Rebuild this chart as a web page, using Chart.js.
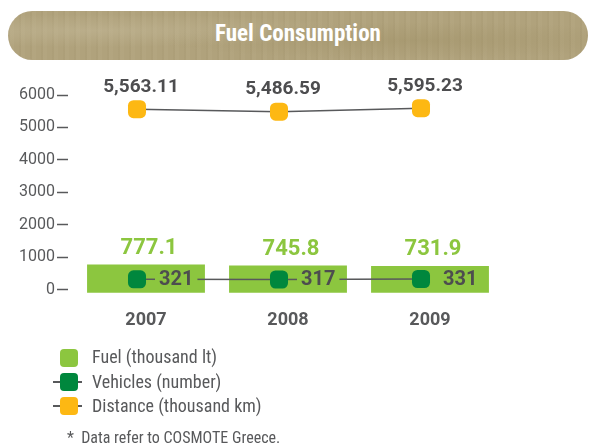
<!DOCTYPE html>
<html>
<head>
<meta charset="utf-8">
<script src="https://cdn.jsdelivr.net/npm/chart.js@4.4.0/dist/chart.umd.min.js"></script>
<style>
  body { margin: 0; background: #fff; }
  #page { position: relative; width: 593px; height: 447px; overflow: hidden;
          font-family: "Roboto Condensed", Roboto, sans-serif; color: #58595b; }
  #banner { position: absolute; left: 8px; top: 11px; width: 580px; height: 49px; border-radius: 25px;
            background-color: #b0a27c;
            background-image:
              radial-gradient(ellipse at 15% 40%, rgba(205,195,165,0.35), rgba(0,0,0,0) 40%),
              radial-gradient(ellipse at 70% 60%, rgba(150,135,90,0.30), rgba(0,0,0,0) 45%),
              repeating-linear-gradient(90deg, rgba(120,105,65,0.06) 0 2px, rgba(230,220,190,0.05) 2px 6px, rgba(0,0,0,0) 6px 11px); }
  #banner span { position: absolute; left: 0; right: 0; top: 0; line-height: 45px; text-align: center;
                 color: #fff; font-weight: bold; font-size: 23px; }
  #chart { position: absolute; left: 0; top: 0; }
  .row { position: absolute; left: 92px; font-size: 18px; line-height: 20px; }
  .icon { position: absolute; width: 18px; height: 18px; border-radius: 4px; }
  .dash { position: absolute; left: 53px; width: 29px; height: 2px; background: #58595b; }
  #note { position: absolute; left: 67px; top: 428px; font-size: 16px; line-height: 20px; white-space: pre; }
</style>
</head>
<body>
<div id="page">
  <div id="banner"><span>Fuel Consumption</span></div>
  <canvas id="chart" width="593" height="447"></canvas>

  <div class="icon" style="left:60px; top:349px; background:#8cc63f;"></div>
  <div class="row" style="top:347px;">Fuel (thousand lt)</div>

  <div class="dash" style="top:381px;"></div>
  <div class="icon" style="left:60px; top:373px; background:#00873d;"></div>
  <div class="row" style="top:372px;">Vehicles (number)</div>

  <div class="dash" style="top:405px;"></div>
  <div class="icon" style="left:60px; top:397px; background:#fdb813;"></div>
  <div class="row" style="top:396px;">Distance (thousand km)</div>

  <div id="note">*  Data refer to COSMOTE Greece.</div>
</div>

<script>
const years = ['2007', '2008', '2009'];
const fuel = [777.1, 745.8, 731.9];
const vehicles = [321, 317, 331];
const distance = [5563.11, 5486.59, 5595.23];
const yTicks = [0, 1000, 2000, 3000, 4000, 5000, 6000];

const family = '"Roboto Condensed", Roboto, sans-serif';
const boldFamily = 'Roboto, sans-serif';
const fuelColor = '#8cc63f';
const vehicleColor = '#00873d';
const distanceColor = '#fdb813';
const lineColor = '#58595b';
const darkText = '#4d4d4f';
const lineShift = -9;   // the line markers sit a little left of the bar centres

// nudge the two line datasets left of the bar centres
const shiftLines = {
    id: 'shiftLines',
    beforeDatasetDraw(chart, args) {
        if (args.meta.type === 'line') {
            chart.ctx.save();
            chart.ctx.translate(lineShift, 0);
        }
    },
    afterDatasetDraw(chart, args) {
        if (args.meta.type === 'line') chart.ctx.restore();
    }
};

// labels drawn next to the marks
const valueLabels = {
    id: 'valueLabels',
    afterDatasetsDraw(chart) {
        const ctx = chart.ctx;
        ctx.save();
        ctx.textBaseline = 'middle';

        chart.getDatasetMeta(0).data.forEach((bar, i) => {
            ctx.font = 'bold 22px ' + boldFamily;
            ctx.fillStyle = fuelColor;
            ctx.textAlign = 'center';
            ctx.fillText(fuel[i].toFixed(1), bar.x + 3, bar.y - 16);
        });

        chart.getDatasetMeta(1).data.forEach((pt, i) => {
            let text = String(vehicles[i]);
            ctx.font = 'bold 20px ' + boldFamily;
            let w = ctx.measureText(text).width;
            let left = pt.x + lineShift + 22;
            ctx.fillStyle = fuelColor;
            ctx.fillRect(left - 4, pt.y - 11, w + 8, 22);
            ctx.fillStyle = darkText;
            ctx.textAlign = 'left';
            ctx.fillText(text, left, pt.y + 1);
        });

        chart.getDatasetMeta(2).data.forEach((pt, i) => {
            let text = distance[i].toLocaleString('en-US', {minimumFractionDigits: 2});
            ctx.font = 'bold 19px ' + boldFamily;
            ctx.fillStyle = darkText;
            ctx.textAlign = 'center';
            ctx.fillText(text, pt.x + lineShift + 4, pt.y - 22);
        });
        ctx.restore();
    }
};

let ctx = document.getElementById('chart').getContext('2d');

new Chart(ctx, {
    type: 'bar',
    data: {
        labels: years,
        datasets: [{
            label: 'Fuel (thousand lt)',
            data: fuel,
            backgroundColor: fuelColor,
            base: -90,
            barPercentage: 0.83,
            categoryPercentage: 1,
            order: 3
        }, {
            type: 'line',
            label: 'Vehicles (number)',
            data: vehicles,
            borderColor: lineColor,
            borderWidth: 1.5,
            pointStyle: 'rectRounded',
            pointRadius: 10.5,
            pointBorderWidth: 0,
            pointBackgroundColor: vehicleColor,
            tension: 0,
            order: 1
        }, {
            type: 'line',
            label: 'Distance (thousand km)',
            data: distance,
            borderColor: lineColor,
            borderWidth: 1.5,
            pointStyle: 'rectRounded',
            pointRadius: 10.5,
            pointBorderWidth: 0,
            pointBackgroundColor: distanceColor,
            tension: 0.1,
            order: 2
        }]
    },
    options: {
        responsive: false,
        animation: false,
        layout: { padding: { top: 95, left: 0, right: 92, bottom: 114 } },
        plugins: {
            legend: { display: false },
            tooltip: { enabled: false }
        },
        scales: {
            x: {
                offset: true,
                grid: { display: false },
                border: { display: false },
                ticks: {
                    padding: 9,
                    color: '#58595b',
                    font: { family: boldFamily, size: 18, weight: 'bold' }
                },
                afterFit: s => { s.height = 40; }
            },
            y: {
                min: -100,
                max: 6000,
                border: { display: false },
                grid: {
                    drawOnChartArea: false,
                    drawTicks: true,
                    tickLength: 18,
                    tickBorderDash: [11, 30],
                    tickColor: '#58595b',
                    tickWidth: 1.5
                },
                ticks: {
                    padding: 2,
                    color: '#58595b',
                    font: { family: boldFamily, size: 16 },
                    callback: v => String(v)
                },
                afterBuildTicks: s => { s.ticks = yTicks.map(v => ({value: v})); },
                afterFit: s => { s.width = 75; }
            }
        }
    },
    plugins: [shiftLines, valueLabels]
});
</script>
</body>
</html>
